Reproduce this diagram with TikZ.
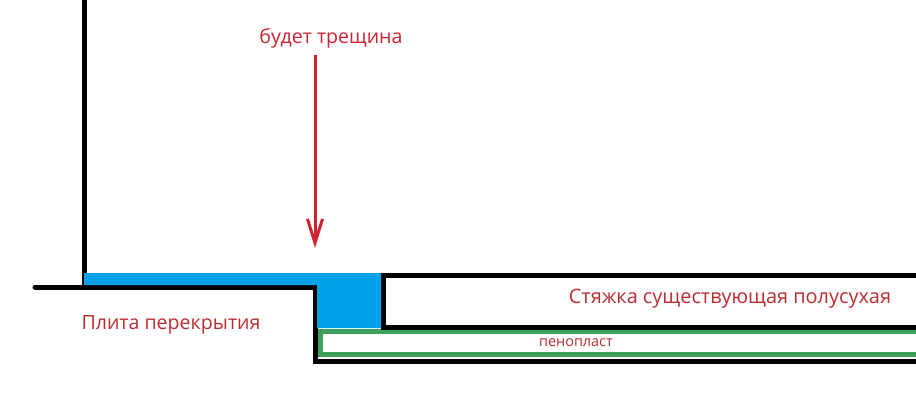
\documentclass[tikz,border=0pt]{standalone}
\usepackage{fontspec}
\setmainfont{Open Sans}
\usetikzlibrary{arrows.meta}

\begin{document}
\begin{tikzpicture}[x = 1pt, y = -1pt,
                wall/.style = {draw = black, line width = 5pt, line cap = round},
                foam/.style = {draw = foamgreen, line width = 5pt},
                crack/.style = {draw = crackred, line width = 3pt,
                -{Straight Barb[length=24pt, width=15pt]}}, % arrow head style
                label/.style = {text = labelred, inner sep = 0pt}
            ]
            \definecolor{fillblue}{RGB}{0,162,232}
            \definecolor{foamgreen}{RGB}{60,160,90}
            \definecolor{crackred}{RGB}{205,35,50}
            \definecolor{labelred}{RGB}{185,45,50}

            \useasboundingbox (0,0) rectangle (916,404);

            \coordinate (walltop) at (84,-3);
            \coordinate (wallfoot) at (84,287);
            \coordinate (slableft) at (35,287);
            \coordinate (slabstep) at (315,287);
            \coordinate (stepfoot) at (315,361);
            \coordinate (stepright) at (919,361);
            \coordinate (screedtop) at (383,275);
            \coordinate (screedfoot) at (383,327);
            \coordinate (toprightend) at (919,275);
            \coordinate (footrightend) at (919,327);
            \coordinate (tip) at (315,248);
            \coordinate (tail) at (315,55);

            % green foam strip
            \draw[foam] (919,331.5) -- (320.5,331.5) -- (320.5,354.5) -- (919,354.5);

            \draw[wall] (walltop) -- (wallfoot);
            \draw[wall] (slableft) -- (slabstep) -- (stepfoot) -- (stepright);
            \draw[wall, line cap = butt] (toprightend) -- (screedtop) -- (screedfoot)
            -- (footrightend);

            % fill under the wall and in the step
            \fill[fillblue] (84,273) -- (381,273) -- (381,328) -- (317,328)
            -- (317,285) -- (84,285) -- cycle;

            \node[label, font = \fontsize{19.6}{23}\selectfont, text = crackred] (crack)
            at (331,38) {будет трещина};
            \node[label, font = \fontsize{19.6}{23}\selectfont] (slab) at (171,325)
            {Плита перекрытия};
            \node[label, font = \fontsize{19.9}{23}\selectfont] (screed) at (730,299)
            {Стяжка существующая полусухая};
            \node[label, font = \fontsize{14.4}{17}\selectfont] (foamtext) at (576,343)
            {пенопласт};

            \draw[crack] (tail) -- (tip);
        \end{tikzpicture}
\end{document}
